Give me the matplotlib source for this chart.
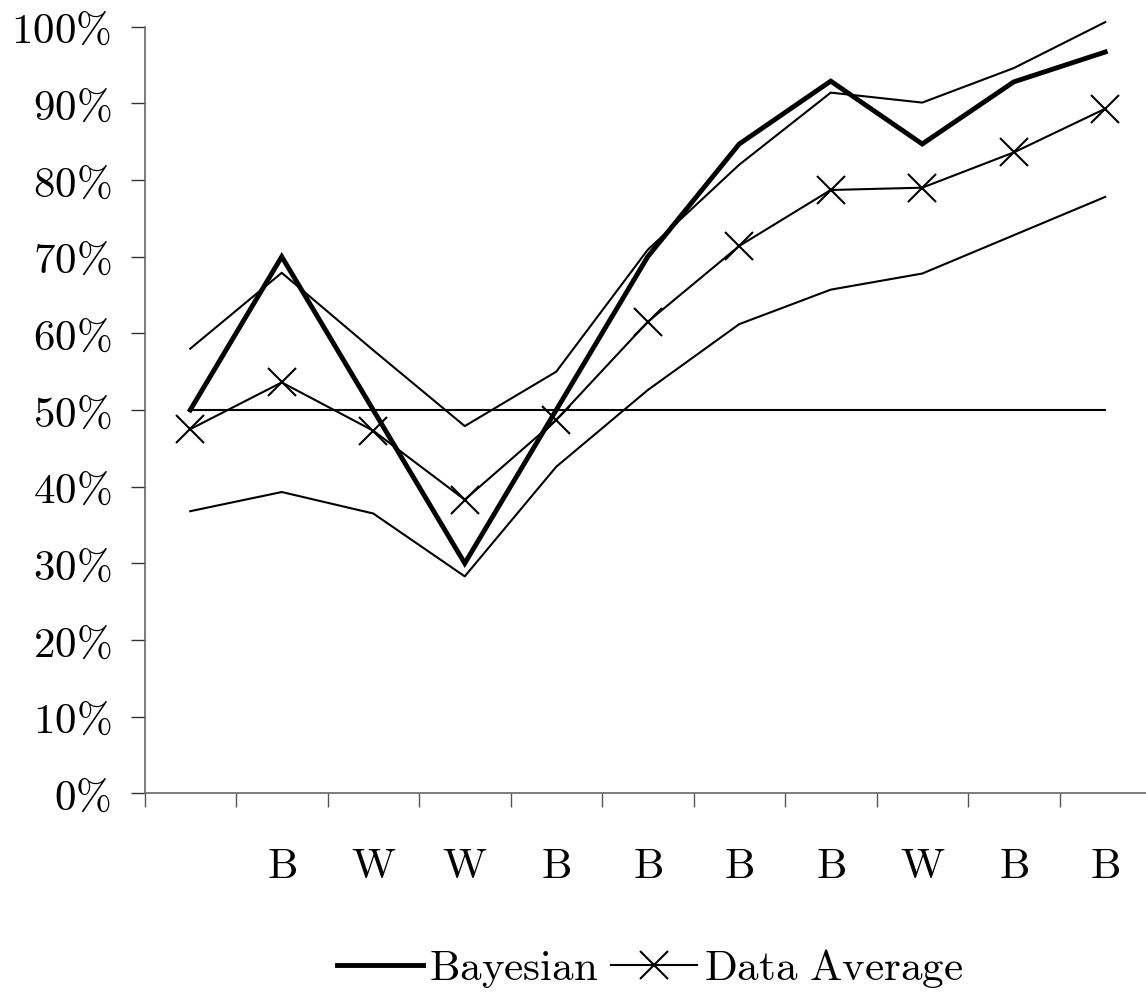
import matplotlib
matplotlib.use("Agg")
import matplotlib.pyplot as plt
from matplotlib.ticker import FixedLocator, NullFormatter, FuncFormatter

plt.rcParams["mathtext.fontset"] = "cm"

# Outcome of each round (first round has no label)
rounds = ["", "B", "W", "W", "B", "B", "B", "B", "W", "B", "B"]

# Posterior estimate
bayesian = [0.50, 0.70, 0.50, 0.30, 0.50, 0.70, 0.847, 0.929, 0.847, 0.928, 0.967]
# Running average of observed data
data_average = [0.475, 0.536, 0.473, 0.383, 0.487, 0.615, 0.714, 0.787, 0.790, 0.836, 0.893]
# Upper and lower bounds
upper_bound = [0.580, 0.679, 0.578, 0.479, 0.550, 0.709, 0.820, 0.914, 0.901, 0.946, 1.006]
lower_bound = [0.368, 0.393, 0.365, 0.283, 0.426, 0.526, 0.612, 0.657, 0.678, 0.728, 0.778]
# Prior level
prior = [0.50, 0.50, 0.50, 0.50, 0.50, 0.50, 0.50, 0.50, 0.50, 0.50, 0.50]

y_ticks = [0.0, 0.1, 0.2, 0.3, 0.4, 0.5, 0.6, 0.7, 0.8, 0.9, 1.0]

fig = plt.figure(figsize=(11.46, 9.92), dpi=100)
ax = fig.add_axes([144.5 / 1146, (992 - 793.3) / 992, 1006.5 / 1146, 766.6 / 992])

x = list(range(len(rounds)))

ax.plot(x, prior, color="black", lw=1.5, clip_on=False)
ax.plot(x, upper_bound, color="black", lw=1.5, clip_on=False)
ax.plot(x, lower_bound, color="black", lw=1.5, clip_on=False)
ax.plot(x, bayesian, color="black", lw=3.5, solid_joinstyle="miter",
        clip_on=False, label=r"$\mathrm{Bayesian}$")
ax.plot(x, data_average, color="black", lw=1.5, marker="x", markersize=20,
        markeredgewidth=1.5, clip_on=False, label=r"$\mathrm{Data\ Average}$")

ax.set_xlim(-0.5, len(rounds) - 0.5)
ax.set_ylim(0, 1)

# Category boundaries as ticks, labels centred on each round
ax.xaxis.set_major_locator(FixedLocator([i - 0.5 for i in range(len(rounds) + 1)]))
ax.xaxis.set_major_formatter(NullFormatter())
ax.xaxis.set_minor_locator(FixedLocator(x))
ax.set_xticklabels([r"$\mathrm{%s}$" % r if r else "" for r in rounds], minor=True)
ax.tick_params(axis="x", which="minor", length=0, pad=37, labelsize=31)
ax.tick_params(axis="x", which="major", length=10, width=1.0, color="#555555",
               direction="out")

ax.yaxis.set_major_locator(FixedLocator(y_ticks))
ax.yaxis.set_major_formatter(FuncFormatter(lambda v, p: r"$%d\%%$" % round(v * 100)))
ax.tick_params(axis="y", length=10, width=1.0, color="#333333", direction="out",
               labelsize=31, pad=14)

for side in ("top", "right"):
    ax.spines[side].set_visible(False)
for side in ("left", "bottom"):
    ax.spines[side].set_color("#666666")
    ax.spines[side].set_linewidth(1.2)

fig.legend(loc="center", bbox_to_anchor=(0.567, 0.024), ncol=2, frameon=False,
           fontsize=31, handlelength=2.0, handletextpad=0.15, columnspacing=0.3,
           borderaxespad=0)

fig.savefig("out.png", dpi=100)
